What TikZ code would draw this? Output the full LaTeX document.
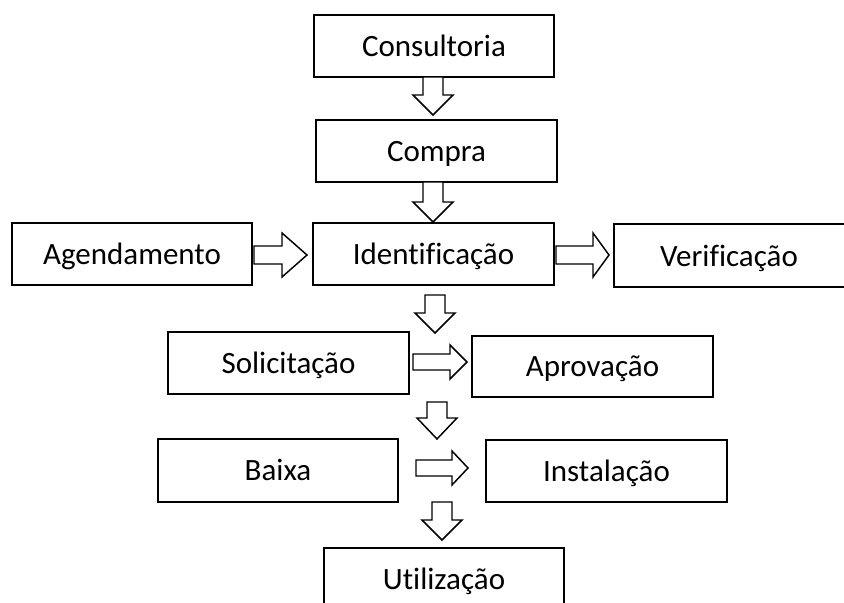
\documentclass[tikz,border=0pt]{standalone}
\usepackage{fontspec}
\setmainfont{Carlito}[Ligatures=CommonOff]
\begin{document}
\begin{tikzpicture}[x=0.75pt,y=-0.75pt,
  lbl/.style={inner sep=0pt, text height=15pt, text depth=0pt,
    font=\fontsize{23.25pt}{28pt}\selectfont},
  box/.style={lbl, draw=black, line width=0.8pt, fill=white, rectangle},
  blockarrow/.style={draw=black, line width=1.1pt, fill=white, line join=miter}]
\useasboundingbox (0,0) rectangle (844,603);
\newcommand\downarr[4]{%
  \draw[blockarrow] (#1-10,#2) -- (#1-10,#4) -- (#1-20,#4) -- (#1,#3) -- (#1+20,#4) -- (#1+10,#4) -- (#1+10,#2) -- cycle;}
\newcommand\rightarr[6]{%
  \draw[blockarrow] (#1,#4-#5) -- (#3,#4-#5) -- (#3,#4-#6) -- (#2,#4) -- (#3,#4+#6) -- (#3,#4+#5) -- (#1,#4+#5) -- cycle;}
% boxes
\node[box, minimum width=240*0.75pt, minimum height=62*0.75pt] (cons) at (434,46) {Consultoria};
\node[box, minimum width=241*0.75pt, minimum height=62*0.75pt] (compra) at (436.5,151) {Compra};
\node[box, minimum width=240*0.75pt, minimum height=62*0.75pt] (agend) at (132,254) {Agendamento};
\node[box, minimum width=241*0.75pt, minimum height=62*0.75pt] (ident) at (433.5,254) {Identificação};
\node[box, minimum width=234*0.75pt, minimum height=63*0.75pt] (verif) at (731,255.5) {};
\node[lbl] (veriftxt) at (729,256) {Verificação};
\node[box, minimum width=241*0.75pt, minimum height=62*0.75pt] (solic) at (288.5,363) {Solicitação};
\node[box, minimum width=241*0.75pt, minimum height=61*0.75pt] (aprov) at (592.5,366.5) {Aprovação};
\node[box, minimum width=240*0.75pt, minimum height=63*0.75pt] (baixa) at (278,470.5) {Baixa};
\node[box, minimum width=241*0.75pt, minimum height=62*0.75pt] (instal) at (606.5,471) {Instalação};
\node[box, minimum width=240*0.75pt, minimum height=70*0.75pt] (util) at (444,583) {};
\node[lbl] (utiltxt) at (444,579) {Utilização};
% block arrows
\downarr{433}{77}{115}{95}
\downarr{433}{182}{222}{202}
\rightarr{254}{307}{282}{255}{9}{22}
\rightarr{556}{609}{593}{255}{9}{22}
\downarr{435}{295}{333}{313}
\rightarr{413}{467}{450}{362}{8}{17}
\downarr{437}{402}{439}{418}
\rightarr{416}{468}{452}{468}{8}{17}
\downarr{442}{502}{540}{520}
\end{tikzpicture}
\end{document}
